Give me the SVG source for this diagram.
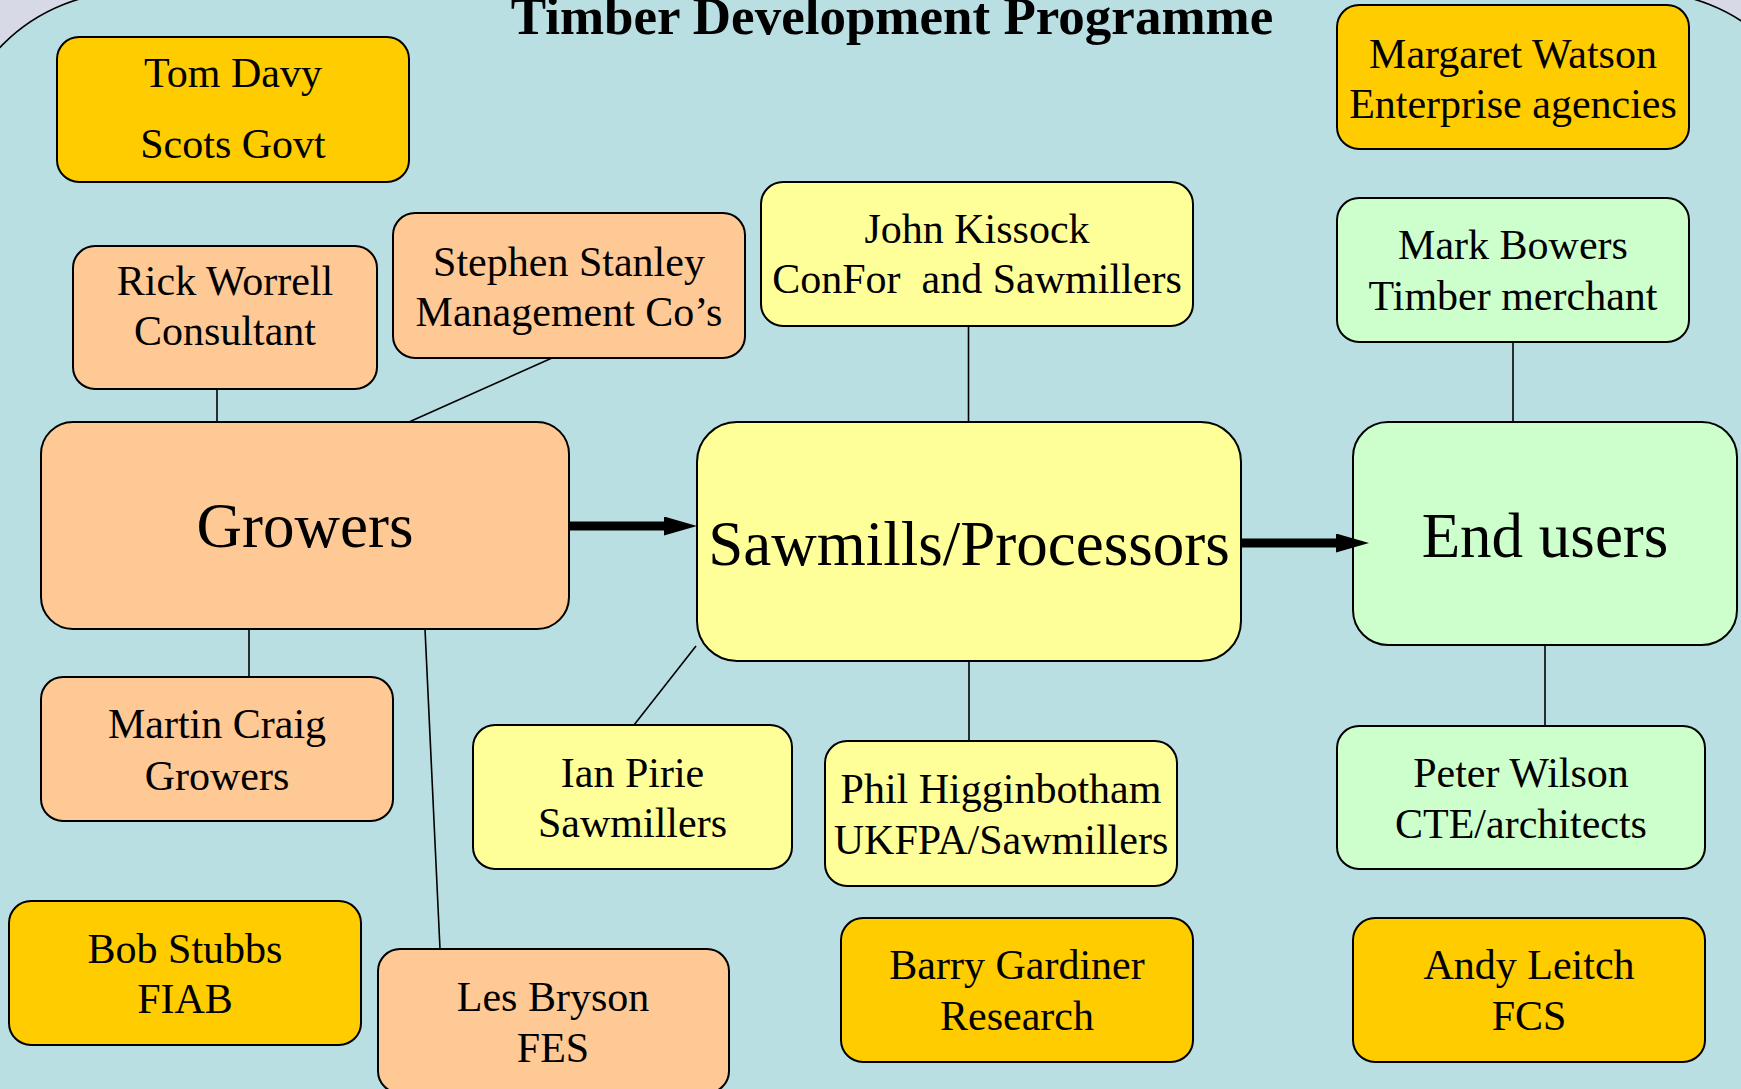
<svg xmlns="http://www.w3.org/2000/svg" width="1741" height="1089" viewBox="0 0 1741 1089">
<style>
.box{stroke:#000;stroke-width:2}
.gold{fill:#ffcc00}
.peach{fill:#ffc996}
.yel{fill:#ffff99}
.grn{fill:#ccffcc}
text{font-family:"Liberation Serif","Times New Roman",serif;fill:#000;text-anchor:middle}
.t{font-size:42px}
.big{font-size:63px}
.title{font-size:53px;font-weight:bold}
.conn line{stroke:#000;stroke-width:1.6}
.conn line.arrow{stroke-width:9}
</style>
<defs>
<marker id="head" markerUnits="userSpaceOnUse" markerWidth="34" markerHeight="20" refX="2" refY="9.5" orient="auto">
<path d="M0,0 L33,9.5 L0,19 z" fill="#000"/>
</marker>
</defs>
<rect x="0" y="0" width="1741" height="1089" fill="#d7d9e6"/>
<rect x="-49" y="-8" width="1871" height="1400" rx="178" ry="178" fill="#b9dfe2" stroke="#000" stroke-width="1.6"/>
<text class="title" x="892" y="34">Timber Development Programme</text>

<g id="tom-davy"><rect class="box gold" x="57" y="37" width="352" height="145" rx="22"/><text class="t" x="233" y="87">Tom Davy</text><text class="t" x="233" y="158">Scots Govt</text></g>
<g id="margaret-watson"><rect class="box gold" x="1337" y="5" width="352" height="144" rx="22"/><text class="t" x="1513" y="68">Margaret Watson</text><text class="t" x="1513" y="118">Enterprise agencies</text></g>
<g id="rick-worrell"><rect class="box peach" x="73" y="246" width="304" height="143" rx="22"/><text class="t" x="225" y="295">Rick Worrell</text><text class="t" x="225" y="345">Consultant</text></g>
<g id="stephen-stanley"><rect class="box peach" x="393" y="213" width="352" height="145" rx="22"/><text class="t" x="569" y="276">Stephen Stanley</text><text class="t" x="569" y="326">Management Co’s</text></g>
<g id="john-kissock"><rect class="box yel" x="761" y="182" width="432" height="144" rx="22"/><text class="t" x="977" y="243">John Kissock</text><text class="t" x="977" y="293" style="white-space:pre">ConFor  and Sawmillers</text></g>
<g id="mark-bowers"><rect class="box grn" x="1337" y="198" width="352" height="144" rx="22"/><text class="t" x="1513" y="259">Mark Bowers</text><text class="t" x="1513" y="310">Timber merchant</text></g>

<g id="connectors" class="conn">
<line x1="217" y1="389" x2="217" y2="422"/>
<line x1="552" y1="358" x2="409" y2="422"/>
<line x1="968.5" y1="326" x2="968.5" y2="422"/>
<line x1="1513" y1="342" x2="1513" y2="422"/>
<line x1="249" y1="629" x2="249" y2="677"/>
<line x1="425" y1="629" x2="440" y2="949"/>
<line x1="696" y1="646" x2="634" y2="725"/>
<line x1="969" y1="661" x2="969" y2="741"/>
<line x1="1545" y1="645" x2="1545" y2="726"/>
</g>

<g id="growers"><rect class="box peach" x="41" y="422" width="528" height="207" rx="32"/><text class="big" x="305" y="547">Growers</text></g>
<g id="sawmills"><rect class="box yel" x="697" y="422" width="544" height="239" rx="40"/><text class="big" x="969" y="565">Sawmills/Processors</text></g>
<g id="end-users"><rect class="box grn" x="1353" y="422" width="384" height="223" rx="35"/><text class="big" x="1545" y="557">End users</text></g>

<g id="martin-craig"><rect class="box peach" x="41" y="677" width="352" height="144" rx="22"/><text class="t" x="217" y="738">Martin Craig</text><text class="t" x="217" y="790">Growers</text></g>
<g id="ian-pirie"><rect class="box yel" x="473" y="725" width="319" height="144" rx="22"/><text class="t" x="632.5" y="787">Ian Pirie</text><text class="t" x="632.5" y="837">Sawmillers</text></g>
<g id="phil-higginbotham"><rect class="box yel" x="825" y="741" width="352" height="145" rx="22"/><text class="t" x="1001" y="803">Phil Higginbotham</text><text class="t" x="1001" y="854">UKFPA/Sawmillers</text></g>
<g id="peter-wilson"><rect class="box grn" x="1337" y="726" width="368" height="143" rx="22"/><text class="t" x="1521" y="787">Peter Wilson</text><text class="t" x="1521" y="838">CTE/architects</text></g>
<g id="bob-stubbs"><rect class="box gold" x="9" y="901" width="352" height="144" rx="22"/><text class="t" x="185" y="963">Bob Stubbs</text><text class="t" x="185" y="1013">FIAB</text></g>
<g id="les-bryson"><rect class="box peach" x="378" y="949" width="351" height="144" rx="22"/><text class="t" x="553" y="1011">Les Bryson</text><text class="t" x="553" y="1062">FES</text></g>
<g id="barry-gardiner"><rect class="box gold" x="841" y="918" width="352" height="144" rx="22"/><text class="t" x="1017" y="979">Barry Gardiner</text><text class="t" x="1017" y="1030">Research</text></g>
<g id="andy-leitch"><rect class="box gold" x="1353" y="918" width="352" height="144" rx="22"/><text class="t" x="1529" y="979">Andy Leitch</text><text class="t" x="1529" y="1030">FCS</text></g>

<g id="flow-arrows" class="conn">
<line class="arrow" x1="569" y1="526" x2="666" y2="526" marker-end="url(#head)"/>
<line class="arrow" x1="1241" y1="543" x2="1338" y2="543" marker-end="url(#head)"/>
</g>
</svg>
